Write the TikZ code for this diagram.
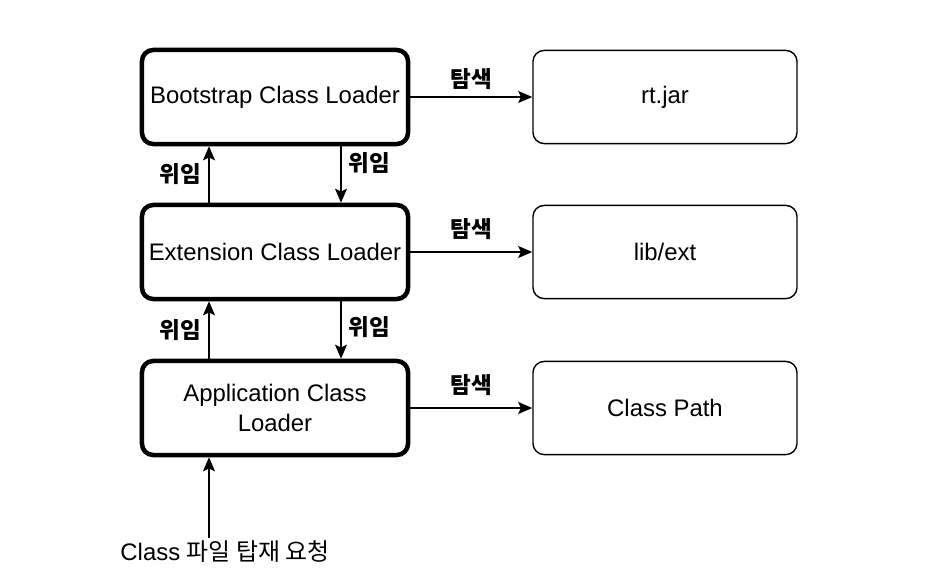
\documentclass[tikz,border=0pt]{standalone}
\usepackage{fontspec}
\setmainfont{Liberation Sans}
\newfontfamily\kor{Noto Sans CJK KR}
\usetikzlibrary{arrows.meta}

\begin{document}
\begin{tikzpicture}[
    x=0.025cm, y=-0.025cm,
    loader/.style={rectangle, rounded corners=8pt, draw=black, line width=3.2pt, minimum width=6.65cm, minimum height=2.35cm, align=center, font=\fontsize{17}{21}\selectfont},
    source/.style={rectangle, rounded corners=8pt, draw=black, line width=1pt, minimum width=6.6cm, minimum height=2.33cm, align=center, font=\fontsize{17}{21}\selectfont},
    arrow/.style={-{Stealth[length=10pt, width=8.5pt, inset=2pt]}, line width=1pt},
    label/.style={font=\kor\bfseries\fontsize{16}{19}\selectfont, inner sep=1pt}
]
\useasboundingbox (0,0) rectangle (946,586);

% Class loaders
\node[loader] (boot) at (275, 97) {Bootstrap Class Loader};
\node[loader] (ext) at (275, 252) {Extension Class Loader};
\node[loader] (app) at (275, 408) {Application Class\\Loader};

% Search paths
\node[source] (rtjar) at (665, 97) {rt.jar};
\node[source] (libext) at (665, 252) {lib/ext};
\node[source] (cpath) at (665, 408) {Class Path};

% Request
\node[font=\fontsize{17}{21}\selectfont, inner sep=1pt] (req) at (225, 551) {Class {\kor 파일 탑재 요청}};

% Delegation upwards
\draw[arrow] (ext.north -| 209,0) -- (boot.south -| 209,0) node[label, midway, left=4pt] {위임};
\draw[arrow] (app.north -| 209,0) -- (ext.south -| 209,0) node[label, midway, left=4pt] {위임};

% Delegation downwards
\draw[arrow] (boot.south -| 341,0) -- (ext.north -| 341,0) node[label, pos=0.3, right=4pt] {위임};
\draw[arrow] (ext.south -| 341,0) -- (app.north -| 341,0) node[label, pos=0.45, right=4pt] {위임};

% Search
\draw[arrow] (boot) -- (rtjar) node[label, midway, above=4pt] {탐색};
\draw[arrow] (ext) -- (libext) node[label, midway, above=7pt] {탐색};
\draw[arrow] (app) -- (cpath) node[label, midway, above=7pt] {탐색};

% Load request
\draw[arrow] (req.north -| 209,0) -- (app.south -| 209,0);

\end{tikzpicture}
\end{document}
